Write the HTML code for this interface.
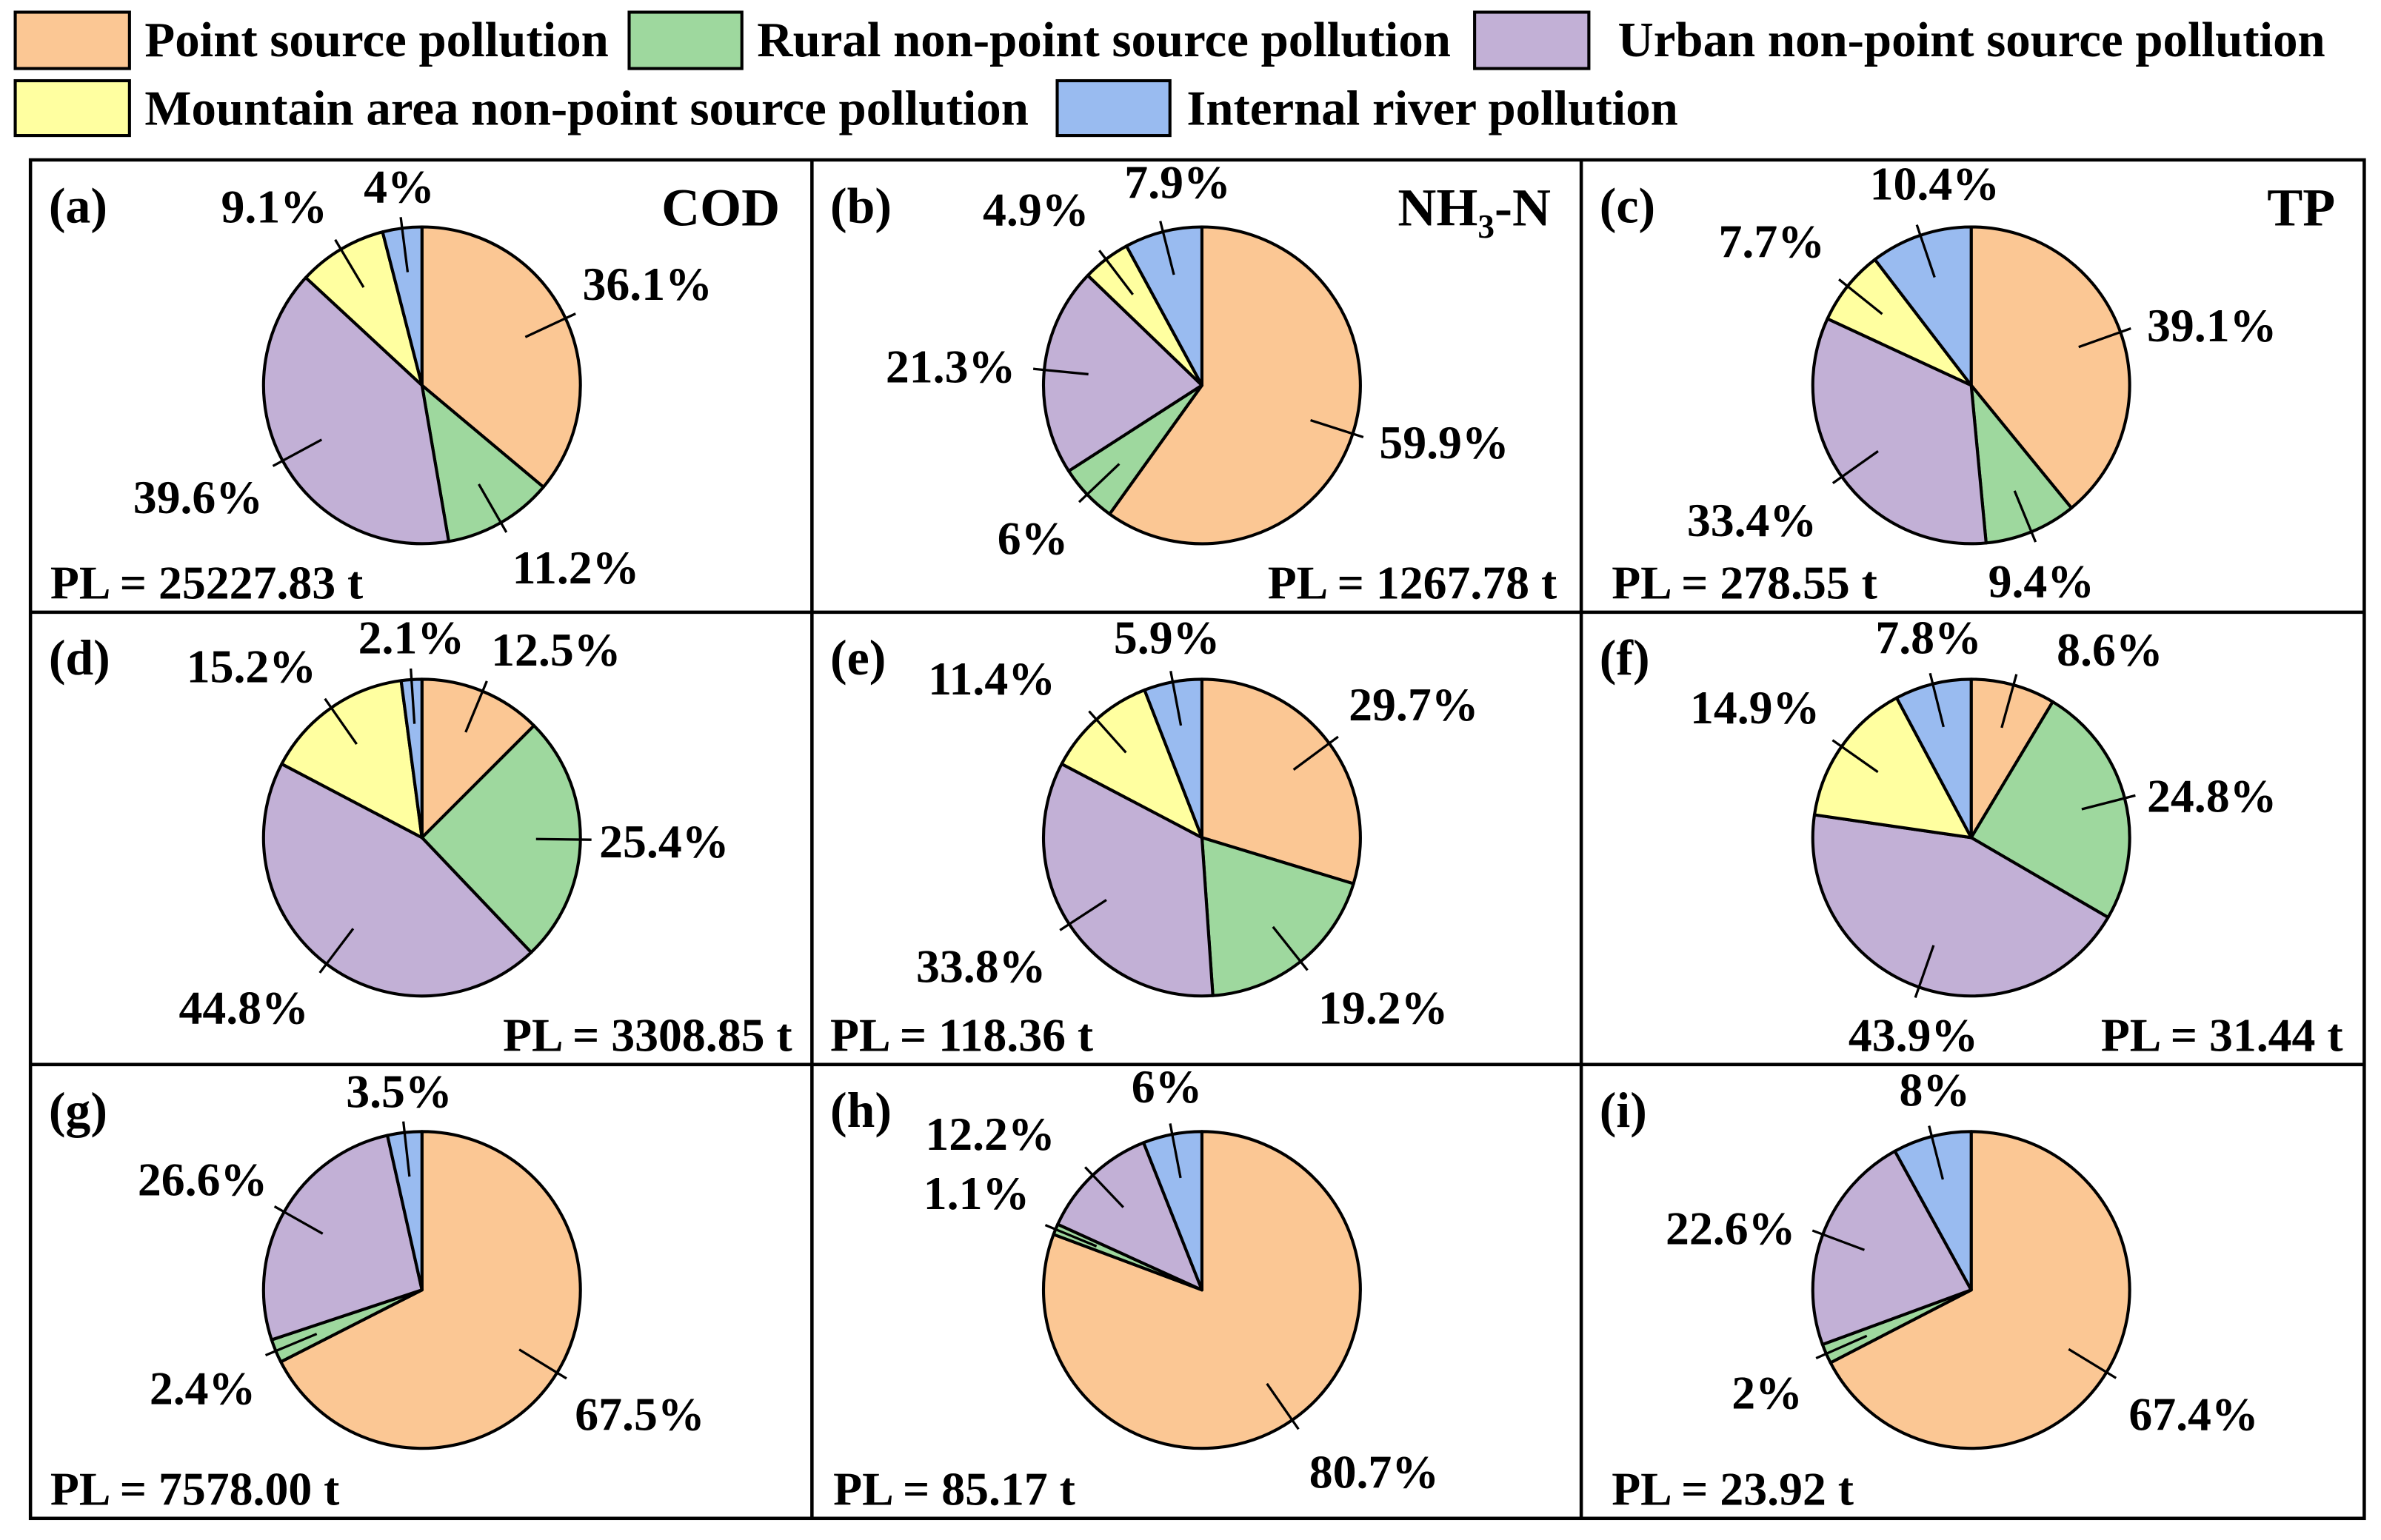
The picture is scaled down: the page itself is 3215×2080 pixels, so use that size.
<!DOCTYPE html>
<html><head><meta charset="utf-8"><style>
html,body{margin:0;padding:0;background:#fff;}
svg{display:block;}
svg text{font-family:"Liberation Serif","Times New Roman",serif;font-weight:bold;fill:#000;}
</style></head><body>
<svg id="chart" width="3215" height="2080" viewBox="0 0 1563 1011.2" xmlns="http://www.w3.org/2000/svg">
<rect x="0" y="0" width="1563" height="1012" fill="#fff"/>
<g font-family="Liberation Serif, serif" font-weight="bold">
 <g><rect x="10" y="8" width="75" height="37" fill="#FBC794" stroke="#000" stroke-width="2"/><text x="95" y="37" font-size="32.5">Point source pollution</text></g>
 <g><rect x="413" y="8" width="74" height="37" fill="#9ED89E" stroke="#000" stroke-width="2"/><text x="497" y="37" font-size="32.5">Rural non-point source pollution</text></g>
 <g><rect x="968" y="8" width="75" height="37" fill="#C2B0D6" stroke="#000" stroke-width="2"/><text x="1062" y="37" font-size="32.5">Urban non-point source pollution</text></g>
 <g><rect x="10" y="53" width="75" height="36" fill="#FFFFA0" stroke="#000" stroke-width="2"/><text x="95" y="82" font-size="32.5">Mountain area non-point source pollution</text></g>
 <g><rect x="694" y="53" width="74" height="36" fill="#99BBF0" stroke="#000" stroke-width="2"/><text x="779" y="82" font-size="32.5">Internal river pollution</text></g>
</g>
<g id="panels" font-family="Liberation Serif, serif" font-weight="bold"></g>
<g stroke="#000" stroke-width="2.2" fill="none">
 <rect x="20" y="105" width="1532" height="892"/>
 <line x1="533" y1="105" x2="533" y2="997"/><line x1="1038" y1="105" x2="1038" y2="997"/>
 <line x1="20" y1="402" x2="1552" y2="402"/><line x1="20" y1="699" x2="1552" y2="699"/>
</g>
</svg>
<script>
// categories order: point, rural, urban, mountain, internal river
const categories = ["Point source pollution","Rural non-point source pollution","Urban non-point source pollution","Mountain area non-point source pollution","Internal river pollution"];
const panelIds = ["a","b","c","d","e","f","g","h","i"];
const valuesA = [36.1, 11.2, 39.6, 9.1, 4];
const valuesB = [59.9, 6, 21.3, 4.9, 7.9];
const valuesC = [39.1, 9.4, 33.4, 7.7, 10.4];
const valuesD = [12.5, 25.4, 44.8, 15.2, 2.1];
const valuesE = [29.7, 19.2, 33.8, 11.4, 5.9];
const valuesF = [8.6, 24.8, 43.9, 14.9, 7.8];
const valuesG = [67.5, 2.4, 26.6, 0, 3.5];
const valuesH = [80.7, 1.1, 12.2, 0, 6];
const valuesI = [67.4, 2, 22.6, 0, 8];
const pollutantTitles = ["COD","NH3-N","TP","","","","","",""];
const plLabels = ["PL = 25227.83 t","PL = 1267.78 t","PL = 278.55 t","PL = 3308.85 t","PL = 118.36 t","PL = 31.44 t","PL = 7578.00 t","PL = 85.17 t","PL = 23.92 t"];

const allValues = [valuesA,valuesB,valuesC,valuesD,valuesE,valuesF,valuesG,valuesH,valuesI];
const colors = ["#FBC794","#9ED89E","#C2B0D6","#FFFFA0","#99BBF0"];
const colX = [20,533,1038], rowY = [105,402,699];
const R = 104;
const labelPos = [
 [[425,197],[378,383],[130,337],[180,146],[262,133]],
 [[948,301],[678,364],[624,251],[680,148],[773,130]],
 [[1452,224],[1340,392],[1150,352],[1163,169],[1270,131]],
 [[365,437],[436,563],[160,672],[165,448],[270,429]],
 [[928,473],[908,672],[644,645],[651,456],[766,429]],
 [[1385,437],[1452,533],[1256,690],[1152,475],[1266,429]],
 [[420,939],[133,922],[133,785],null,[262,727]],
 [[902,977],[641,794],[650,755],null,[766,724]],
 [[1440,939],[1160,925],[1136,817],null,[1270,726]]
];
const plPos = [[33,393,"start"],[1022,393,"end"],[1058,393,"start"],[520,690,"end"],[545,690,"start"],[1538,690,"end"],[33,988,"start"],[547,988,"start"],[1058,988,"start"]];

const NS = "http://www.w3.org/2000/svg";
const root = document.getElementById("panels");
function mk(tag, attrs, parent){const e=document.createElementNS(NS,tag);for(const k in attrs)e.setAttribute(k,attrs[k]);parent.appendChild(e);return e;}
function pt(cx,cy,r,frac){const a=frac*2*Math.PI;return [cx+r*Math.sin(a), cy-r*Math.cos(a)];}

allValues.forEach((vals,pi)=>{
  const col=pi%3,row=Math.floor(pi/3);
  const cx=colX[col]+257-(col===0?0:1), cy=rowY[row]+148;
  const g=mk("g",{},root);
  
  
  const total=vals.reduce((s,v)=>s+v,0);
  let cum=0;
  vals.forEach((v,ci)=>{
    if(v<=0) return;
    const f0=cum/total, f1=(cum+v)/total; cum+=v;
    const p0=pt(cx,cy,R,f0), p1=pt(cx,cy,R,f1);
    const large=(f1-f0)>0.5?1:0;
    const s=mk("path",{d:`M${cx},${cy} L${p0[0]},${p0[1]} A${R},${R} 0 ${large} 1 ${p1[0]},${p1[1]} Z`,fill:colors[ci],stroke:"#000","stroke-width":"2","stroke-linejoin":"round"},g);
    
    
    const mid=(f0+f1)/2;
    const a=pt(cx,cy,R*0.72,mid), b=pt(cx,cy,R*1.07,mid);
    const ln=mk("line",{x1:a[0],y1:a[1],x2:b[0],y2:b[1],stroke:"#000","stroke-width":"1.6"},g);
    
    
    const lp=labelPos[pi][ci];
    if(lp){
      const t=mk("text",{x:lp[0],y:lp[1],"text-anchor":"middle","font-size":"31"},g);
      t.textContent=v+"%";
      
      
    }
  });
  const pl=mk("text",{x:colX[col]+12,y:rowY[row]+41,"font-size":"33"},g);
  pl.textContent="("+panelIds[pi]+")";
  
  
  const pp=plPos[pi];
  const plt=mk("text",{x:pp[0],y:pp[1],"text-anchor":pp[2],"font-size":"31"},g);
  plt.textContent=plLabels[pi];
  
  
  const title=pollutantTitles[pi];
  if(title){
    const tx=colX[col]+(col===0?492:(col===1?485:495));
    const tt=mk("text",{x:tx,y:rowY[row]+43,"text-anchor":"end","font-size":"35"},g);
    
    
    if(title==="NH3-N"){
      tt.appendChild(document.createTextNode("NH"));
      const sub=document.createElementNS(NS,"tspan");sub.setAttribute("font-size","22");sub.setAttribute("dy","8");sub.textContent="3";tt.appendChild(sub);
      const rest=document.createElementNS(NS,"tspan");rest.setAttribute("dy","-8");rest.textContent="-N";tt.appendChild(rest);
    } else tt.textContent=title;
  }
});
</script>
</body></html>
